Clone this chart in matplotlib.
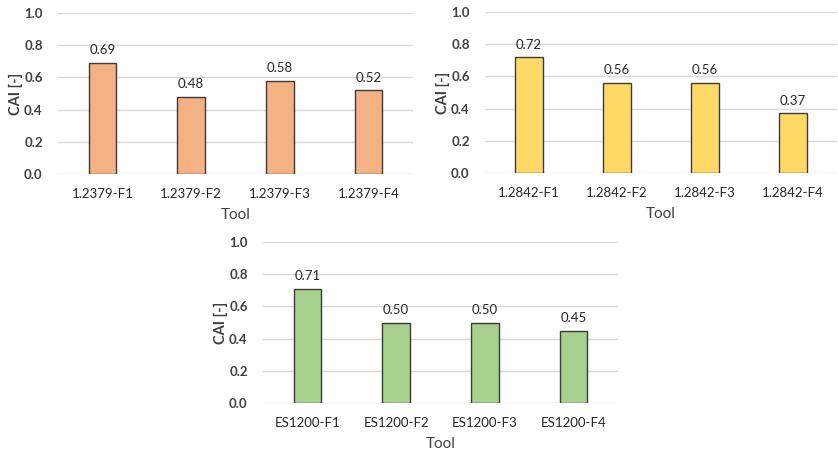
import matplotlib.pyplot as plt

plt.rcParams['font.family'] = ['Lato', 'DejaVu Sans']

tools_1 = ['1.2379-F1', '1.2379-F2', '1.2379-F3', '1.2379-F4']
cai_1 = [0.69, 0.48, 0.58, 0.52]

tools_2 = ['1.2842-F1', '1.2842-F2', '1.2842-F3', '1.2842-F4']
cai_2 = [0.72, 0.56, 0.56, 0.37]

tools_3 = ['ES1200-F1', 'ES1200-F2', 'ES1200-F3', 'ES1200-F4']
cai_3 = [0.71, 0.50, 0.50, 0.45]

W, H = 838, 450
fig = plt.figure(figsize=(W / 100, H / 100), dpi=100)


def px_axes(left, right, top, bottom):
    # axes placed in pixel coordinates (origin top-left)
    return fig.add_axes([left / W, 1 - bottom / H, (right - left) / W, (bottom - top) / H])


def bar_panel(ax, labels, values, color):
    x = range(len(labels))
    ax.bar(x, values, width=0.31, color=color, edgecolor='#3a3a3a', linewidth=1.0, zorder=3)
    for xi, v in zip(x, values):
        ax.text(xi, v + 0.04, f'{v:.2f}', ha='center', va='bottom', fontsize=9.5, color='#262626')
    ax.set_xlim(-0.5, len(labels) - 0.5)
    ax.set_ylim(0, 1.0)
    ax.set_yticks([0, 0.2, 0.4, 0.6, 0.8, 1.0])
    ax.set_yticklabels([f'{t:.1f}' for t in ax.get_yticks()], fontweight='bold', color='#404040')
    ax.set_xticks(list(x))
    ax.set_xticklabels(labels, color='#262626')
    ax.tick_params(axis='both', length=0, labelsize=9.5)
    ax.tick_params(axis='x', pad=10)
    ax.tick_params(axis='y', pad=11)
    ax.grid(axis='y', color='#d9d9d9', linewidth=1.0, zorder=0)
    for s in ax.spines.values():
        s.set_visible(False)
    ax.set_ylabel('CAI [-]', fontsize=10.5, fontweight='bold', color='#404040', labelpad=1)
    ax.set_xlabel('Tool', fontsize=11, color='#404040', labelpad=6)


ax1 = px_axes(58, 413, 13, 174)
bar_panel(ax1, tools_1, cai_1, '#f4b183')

ax2 = px_axes(485, 837, 12, 173)
bar_panel(ax2, tools_2, cai_2, '#ffd966')

ax3 = px_axes(263, 618, 242, 403)
bar_panel(ax3, tools_3, cai_3, '#a9d18e')

fig.savefig('out.png', dpi=100)
